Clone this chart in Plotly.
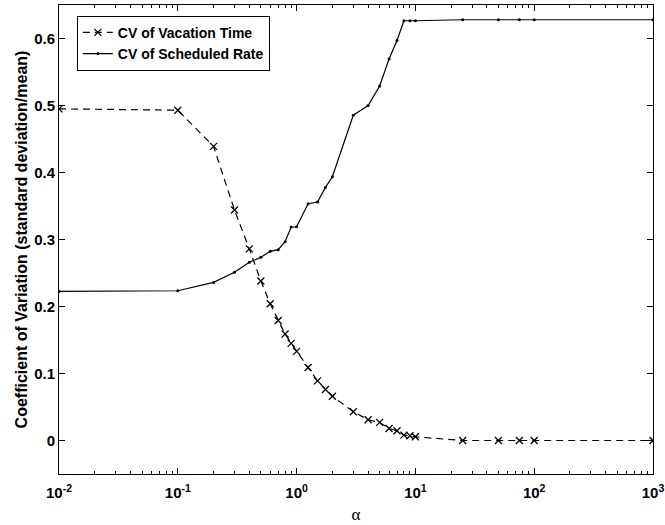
import plotly.graph_objects as go

alpha = [0.01, 0.1, 0.2, 0.3, 0.4, 0.5, 0.6, 0.7, 0.8, 0.9, 1.0, 1.25, 1.5, 1.75, 2,
         3, 4, 5, 6, 7, 8, 9, 10, 25, 50, 75, 100, 1000]
cv_vacation = [0.495, 0.493, 0.439, 0.344, 0.286, 0.238, 0.204, 0.179, 0.159, 0.145,
               0.133, 0.109, 0.089, 0.076, 0.066, 0.043, 0.031, 0.027, 0.018, 0.0145,
               0.008, 0.007, 0.0055, 0.0, 0.0, 0.0, 0.0, 0.0]
cv_rate = [0.2225, 0.2235, 0.236, 0.251, 0.266, 0.2735, 0.2824, 0.2848, 0.2967, 0.3186,
           0.319, 0.3534, 0.3559, 0.3778, 0.3936, 0.4855, 0.500, 0.529, 0.5695, 0.597,
           0.6265, 0.6265, 0.6265, 0.628, 0.628, 0.628, 0.628, 0.628]

x_tickvals = [0.01, 0.1, 1, 10, 100, 1000]
x_ticktext = ["10<sup>-2</sup>", "10<sup>-1</sup>", "10<sup>0</sup>", "10<sup>1</sup>",
              "10<sup>2</sup>", "10<sup>3</sup>"]
y_tickvals = [0, 0.1, 0.2, 0.3, 0.4, 0.5, 0.6]
y_ticktext = ["0", "0.1", "0.2", "0.3", "0.4", "0.5", "0.6"]

minor_vals = [m * d for d in x_tickvals[:-1] for m in range(2, 10)]

FAM = "Liberation Sans, Arial, sans-serif"
fnt = dict(family=FAM, size=15, color="black", weight="bold")

fig = go.Figure()
fig.add_trace(go.Scatter(
    x=alpha, y=cv_vacation, mode="lines+markers", name="CV of Vacation Time",
    line=dict(color="black", width=1.2, dash="7px,5px"),
    marker=dict(symbol="x-thin", size=7, line=dict(color="black", width=1.3)),
))
fig.add_trace(go.Scatter(
    x=alpha, y=cv_rate, mode="lines+markers", name="CV of Scheduled Rate",
    line=dict(color="black", width=1.2),
    marker=dict(symbol="circle", size=3, color="black"),
))

axis_common = dict(showline=True, linecolor="black", linewidth=1, mirror="ticks",
                   ticks="inside", tickcolor="black", showgrid=False, zeroline=False,
                   tickfont=fnt, automargin=False)

fig.update_xaxes(type="log", range=[-2, 3], tickmode="array", tickvals=x_tickvals,
                 ticktext=x_ticktext, ticklen=6, ticklabelstandoff=5,
                 minor=dict(tickmode="array", tickvals=minor_vals, ticks="inside",
                            ticklen=3, tickcolor="black", showgrid=False),
                 title=dict(text="α", font=dict(family="Liberation Serif, Times New Roman, serif",
                                                 size=17, color="black", weight="normal"),
                            standoff=8),
                 **axis_common)
fig.update_yaxes(range=[-0.05, 0.65], tickmode="array", tickvals=y_tickvals,
                 ticktext=y_ticktext, ticklen=6,
                 title=dict(text="Coefficient of Variation (standard deviation/mean)",
                            font=dict(family=FAM, size=16, color="black", weight="bold"),
                            standoff=2),
                 **axis_common)

fig.update_layout(
    width=665, height=525,
    margin=dict(l=59, r=12, t=5, b=51),
    plot_bgcolor="white", paper_bgcolor="white",
    font=fnt,
    legend=dict(x=0.03, y=0.977, xanchor="left", yanchor="top",
                bordercolor="black", borderwidth=1, bgcolor="white",
                font=dict(family=FAM, size=14, color="black", weight="bold"),
                tracegroupgap=0, itemwidth=30),
    showlegend=True,
)

fig.write_html("out.html", config={"displayModeBar": False},
               post_script="document.body.style.margin='0';document.body.style.overflow='hidden';")
